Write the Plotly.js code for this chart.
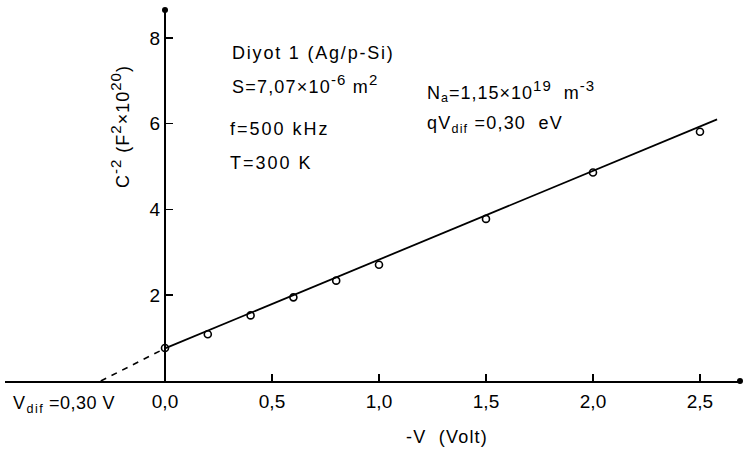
<!DOCTYPE html>
<html>
<head>
<meta charset="utf-8">
<script src="https://cdn.plot.ly/plotly-3.0.1.min.js"></script>
<style>html,body{margin:0;padding:0;background:#fff;}#chart{width:743px;height:455px;}</style>
</head>
<body>
<div id="chart"></div>
<script>
// Measured data: -V (Volt) vs C^-2 (F^2 x 10^20)
const voltage = [0.0, 0.2, 0.4, 0.6, 0.8, 1.0, 1.5, 2.0, 2.5];
const invC2   = [0.77, 1.09, 1.53, 1.95, 2.34, 2.71, 3.78, 4.86, 5.81];
// Fitted straight line (solid part) and extrapolation (dashed part)
const fitX  = [0.0, 2.58];
const fitY  = [0.76, 6.10];
const extX  = [-0.30, 0.0];
const extY  = [0.0, 0.76];
// Tick values / labels
const xTicks = [0, 0.5, 1.0, 1.5, 2.0, 2.5];
const xTickText = ['0,0', '0,5', '1,0', '1,5', '2,0', '2,5'];
const yTicks = [2, 4, 6, 8];
const yTickText = ['2', '4', '6', '8'];

const W = 743, H = 455;
const M = {l: 5, r: 3, t: 10, b: 74};
const PW = W - M.l - M.r, PH = H - M.t - M.b;
const px = x => (x - M.l) / PW;
const py = y => (H - M.b - y) / PH;
const FONT = 'Liberation Sans, Arial, sans-serif';
const ls = (s, sp) => '<span style="letter-spacing:' + sp + 'px">' + s + '</span>';
const bigsup = s => '<sup><span style="font-size:15px">' + s + '</span></sup>';

const traces = [
  {x: extX, y: extY, mode: 'lines', line: {color: '#000', width: 1.6, dash: '6px,6px'}, hoverinfo: 'skip'},
  {x: fitX, y: fitY, mode: 'lines', line: {color: '#000', width: 1.8}, hoverinfo: 'skip'},
  {x: voltage, y: invC2, mode: 'markers',
   marker: {symbol: 'circle-open', size: 7, color: '#000', line: {color: '#000', width: 1.6}}}
];

function ann(text, x, y, opts) {
  return Object.assign({text: text, x: px(x), y: py(y), xref: 'paper', yref: 'paper',
    showarrow: false, xanchor: 'left', yanchor: 'middle',
    font: {family: FONT, size: 18, color: '#000'}}, opts || {});
}

const annotations = [
  ann(ls('Diyot 1 (Ag/p-Si)', 1.8), 230, 53),
  ann(ls('S=7,07×10' + bigsup('-6') + ' m' + bigsup('2'), 1.2), 230, 84),
  ann(ls('f=500 kHz', 2), 228, 129),
  ann(ls('T=300 K', 2), 228, 163),
  ann(ls('N<sub>a</sub>=1,15×10' + bigsup('19') + '  m' + bigsup('-3'), 1), 425, 91),
  ann(ls('qV<sub>dif</sub> =0,30  eV', 1.2), 425, 124),
  ann(ls('V<sub>dif</sub>', 1.5), 11, 404),
  ann(ls('=0,30 V', 0.5), 47, 403),
  ann(ls('-V  (Volt)', 1.2), 447, 437, {xanchor: 'center'}),
  ann(ls('C' + bigsup('-2') + ' (F' + bigsup('2') + '×10' + bigsup('20') + ')', 1), 120, 127,
      {xanchor: 'center', textangle: -90})
];

const layout = {
  width: W, height: H,
  margin: M,
  paper_bgcolor: '#fff', plot_bgcolor: '#fff',
  showlegend: false,
  separators: ',.',
  xaxis: {
    range: [-0.7477, 2.687], showgrid: false, zeroline: false,
    showline: true, linecolor: '#000', linewidth: 2,
    tickmode: 'array', tickvals: xTicks, ticktext: xTickText,
    ticks: 'inside', ticklen: 7, tickwidth: 1.5, tickcolor: '#000',
    ticklabelstandoff: 2,
    tickfont: {family: FONT, size: 19, color: '#000'},
    fixedrange: true
  },
  yaxis: {
    range: [0, 8.65], showgrid: false, zeroline: false,
    anchor: 'free', position: px(165),
    showline: true, linecolor: '#000', linewidth: 2,
    tickmode: 'array', tickvals: yTicks, ticktext: yTickText,
    ticks: 'inside', ticklen: 7, tickwidth: 1.5, tickcolor: '#000',
    tickfont: {family: FONT, size: 19, color: '#000'},
    fixedrange: true
  },
  annotations: annotations,
  shapes: [
    {type: 'circle', xref: 'paper', yref: 'paper', x0: px(737), x1: px(743), y0: py(384), y1: py(378), fillcolor: '#000', line: {width: 0}},
    {type: 'circle', xref: 'paper', yref: 'paper', x0: px(162), x1: px(168), y0: py(13), y1: py(7), fillcolor: '#000', line: {width: 0}}
  ]
};

Plotly.newPlot('chart', traces, layout, {displayModeBar: false, staticPlot: true});
</script>
</body>
</html>
